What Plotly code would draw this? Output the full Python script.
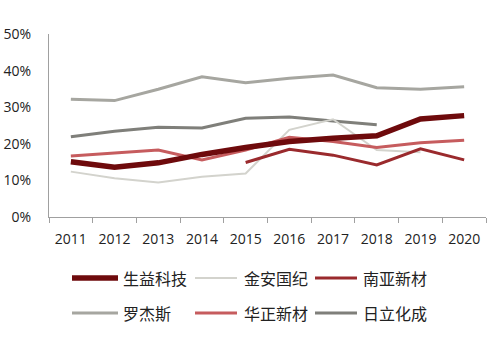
import plotly.graph_objects as go

years = ["2011", "2012", "2013", "2014", "2015", "2016", "2017", "2018", "2019", "2020"]

shengyi = [15.1, 13.6, 14.8, 17.1, 19.0, 20.6, 21.5, 22.2, 26.8, 27.7]
jinan = [12.4, 10.6, 9.4, 11.0, 11.9, 23.8, 26.7, 18.3, 17.7, None]
nanya = [None, None, None, None, 14.9, 18.5, 16.9, 14.2, 18.6, 15.6]
rogers = [32.2, 31.8, 34.9, 38.3, 36.7, 37.9, 38.8, 35.3, 34.9, 35.6]
huazheng = [16.7, 17.6, 18.3, 15.6, 18.3, 21.8, 20.6, 19.0, 20.3, 21.0]
hitachi = [21.9, 23.4, 24.5, 24.3, 27.0, 27.3, 26.2, 25.2, None, None]

series = [
    ("生益科技", shengyi, "#6e0a0c", 5.5),
    ("金安国纪", jinan, "#d3d3cd", 2.0),
    ("南亚新材", nanya, "#9a2a2d", 3.0),
    ("罗杰斯", rogers, "#a6a6a0", 3.0),
    ("华正新材", huazheng, "#c65c5e", 3.0),
    ("日立化成", hitachi, "#7f7f7a", 3.0),
]

W, H = 500, 352
ML, MR, MT, MB = 49, 14, 34, 135
PW, PH = W - ML - MR, H - MT - MB


def px_x(x):
    return (x - ML) / PW


def px_y(y):
    return (H - MB - y) / PH


fig = go.Figure()
order = [3, 5, 1, 4, 2, 0]
for i in order:
    name, vals, color, w = series[i]
    fig.add_trace(go.Scatter(
        x=years, y=vals, name=name, mode="lines",
        line=dict(color=color, width=w),
        showlegend=False, connectgaps=False,
    ))

# manual legend (2 rows x 3 columns)
leg_cols = [(72, 118, 121), (195, 237, 242), (315, 357, 361)]
leg_rows = [278, 313]
shapes, annos = [], []
for i, (name, vals, color, w) in enumerate(series):
    r, c = divmod(i, 3)
    x0, x1, xt = leg_cols[c]
    y = leg_rows[r]
    shapes.append(dict(type="line", xref="paper", yref="paper",
                       x0=px_x(x0), x1=px_x(x1), y0=px_y(y), y1=px_y(y),
                       line=dict(color=color, width=w)))
    annos.append(dict(text=name, xref="paper", yref="paper",
                      x=px_x(xt), y=px_y(y), xanchor="left", yanchor="middle",
                      showarrow=False,
                      font=dict(family="Noto Sans CJK SC", size=16, color="#222222")))

fig.update_layout(
    width=W, height=H,
    margin=dict(l=ML, r=MR, t=MT, b=MB, autoexpand=False),
    paper_bgcolor="white", plot_bgcolor="white",
    showlegend=False,
    shapes=shapes, annotations=annos,
    font=dict(family="Open Sans", size=13, color="#222222"),
    xaxis=dict(
        type="category", showgrid=False, showline=True,
        linecolor="#a0a0a0", linewidth=1.3,
        ticks="outside", tickson="boundaries", ticklen=5,
        tickcolor="#a0a0a0", tickwidth=1.3,
        tickfont=dict(family="Open Sans", size=14, color="#222222"),
        tickangle=0, automargin=False,
        ticklabelstandoff=9,
        range=[-0.5, 9.5], fixedrange=True,
    ),
    yaxis=dict(
        range=[0, 50], dtick=10, ticksuffix="%",
        showgrid=False, showline=True, linecolor="#a0a0a0", linewidth=1.3,
        ticks="", zeroline=False, automargin=False,
        tickfont=dict(family="Open Sans", size=14, color="#222222"),
        ticklabelstandoff=14,
    ),
)

fig.write_html("out.html")
